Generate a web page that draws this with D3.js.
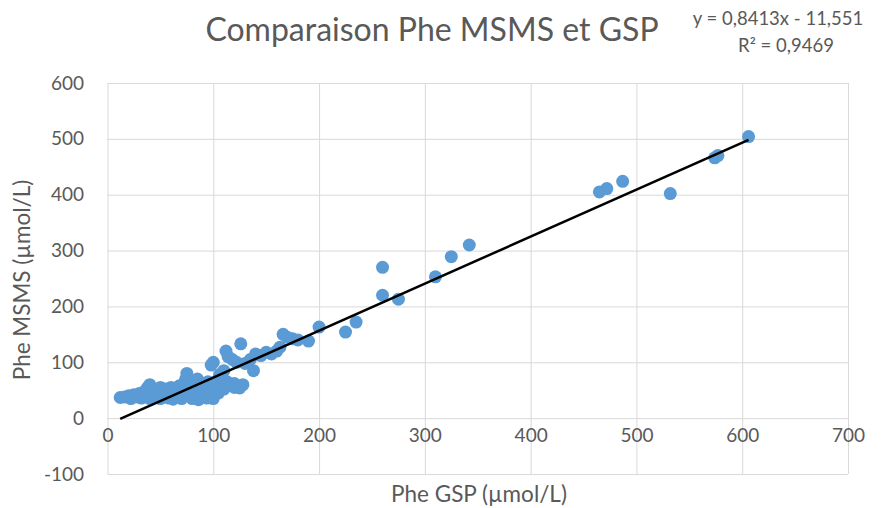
<!DOCTYPE html>
<html><head><meta charset="utf-8">
<script src="https://cdn.jsdelivr.net/npm/d3@7"></script>
<style>body{margin:0;background:#fff}svg{display:block}text{font-family:Lato,"Open Sans",sans-serif;fill:#595959}</style>
</head><body>
<script>
const title = "Comparaison Phe MSMS et GSP";
const xTitle = "Phe GSP (µmol/L)";
const yTitle = "Phe MSMS (µmol/L)";
const eqLine1 = "y = 0,8413x - 11,551";
const eqLine2 = "R² = 0,9469";
const xTicks = [0,100,200,300,400,500,600,700];
const yTicks = [-100,0,100,200,300,400,500,600];
const slope = 0.8413, intercept = -11.551;
const trendRange = [12, 606];
const gsp = [12,16,20,22,25,28,30,32,35,35,38,40,40,42,45,45,48,50,50,52,55,55,58,60,60,62,65,65,68,70,70,72,74,75,76,78,78,80,80,82,84,85,86,88,88,90,90,92,94,95,96,98,98,100,100,100,102,104,105,106,108,110,110,112,113,114,116,118,120,120,122,124,125,126,128,130,135,138,140,145,150,155,160,163,166,170,175,180,190,200,225,235,260,260,275,310,325,342,465,472,487,532,574,577,606];
const msms = [37,38,40,35,42,38,44,36,40,48,55,60,35,45,50,38,42,55,35,48,40,52,36,45,55,34,50,40,58,45,35,62,70,80,52,40,65,48,35,58,42,70,33,50,62,38,45,55,36,65,48,40,95,100,58,35,50,68,45,78,60,52,85,120,65,110,58,105,55,62,100,57,54,133,60,98,105,85,115,112,118,115,120,127,150,145,142,140,138,163,154,172,270,220,213,253,289,310,405,411,424,402,466,470,504];

const W = 883, H = 508;
const svg = d3.select("body").append("svg").attr("width", W).attr("height", H);
const x = d3.scaleLinear().domain([0,700]).range([107.5,848]);
const y = d3.scaleLinear().domain([-100,600]).range([474,83]);
const fmt = d => String(d);

// gridlines
svg.append("g").attr("transform",`translate(0,${y(-100)})`)
  .call(d3.axisBottom(x).tickValues(xTicks).tickSize(-(y(-100)-y(600))).tickFormat(""))
  .call(g=>g.select(".domain").remove())
  .call(g=>g.selectAll("line").attr("stroke","#d9d9d9").attr("stroke-width",1));
svg.append("g").attr("transform",`translate(${x(0)},0)`)
  .call(d3.axisLeft(y).tickValues(yTicks).tickSize(-(x(700)-x(0))).tickFormat(""))
  .call(g=>g.select(".domain").remove())
  .call(g=>g.selectAll("line").attr("stroke","#d9d9d9").attr("stroke-width",1));

// tick labels
svg.append("g").attr("transform",`translate(0,${y(0)})`)
  .call(d3.axisBottom(x).tickValues(xTicks).tickSize(0).tickPadding(10).tickFormat(fmt))
  .call(g=>g.select(".domain").remove())
  .call(g=>g.selectAll("text").style("font-size","19px").attr("fill","#595959"));
svg.append("g").attr("transform",`translate(84,0)`)
  .call(d3.axisLeft(y).tickValues(yTicks).tickSize(0).tickPadding(0).tickFormat(fmt))
  .call(g=>g.select(".domain").remove())
  .call(g=>g.selectAll("text").style("font-size","19px").attr("fill","#595959"));

// points
svg.append("g").selectAll("circle").data(gsp.map((v,i)=>[v,msms[i]])).join("circle")
  .attr("cx",d=>x(d[0])).attr("cy",d=>y(d[1])).attr("r",6.5).attr("fill","#5b9bd5");

// trendline
svg.append("line")
  .attr("x1",x(trendRange[0])).attr("y1",y(slope*trendRange[0]+intercept))
  .attr("x2",x(trendRange[1])).attr("y2",y(slope*trendRange[1]+intercept))
  .attr("stroke","#000").attr("stroke-width",2.5);

// titles
svg.append("text").attr("x",432).attr("y",41).attr("text-anchor","middle").style("font-size","32px").text(title);
svg.append("text").attr("x",778).attr("y",25).attr("text-anchor","middle").style("font-size","18.5px").text(eqLine1);
svg.append("text").attr("x",786).attr("y",52).attr("text-anchor","middle").style("font-size","18.5px").text(eqLine2);
svg.append("text").attr("x",479).attr("y",502).attr("text-anchor","middle").style("font-size","22.5px").text(xTitle);
svg.append("text").attr("transform","translate(30,280) rotate(-90)").attr("text-anchor","middle").style("font-size","22.5px").text(yTitle);
</script>
</body></html>
